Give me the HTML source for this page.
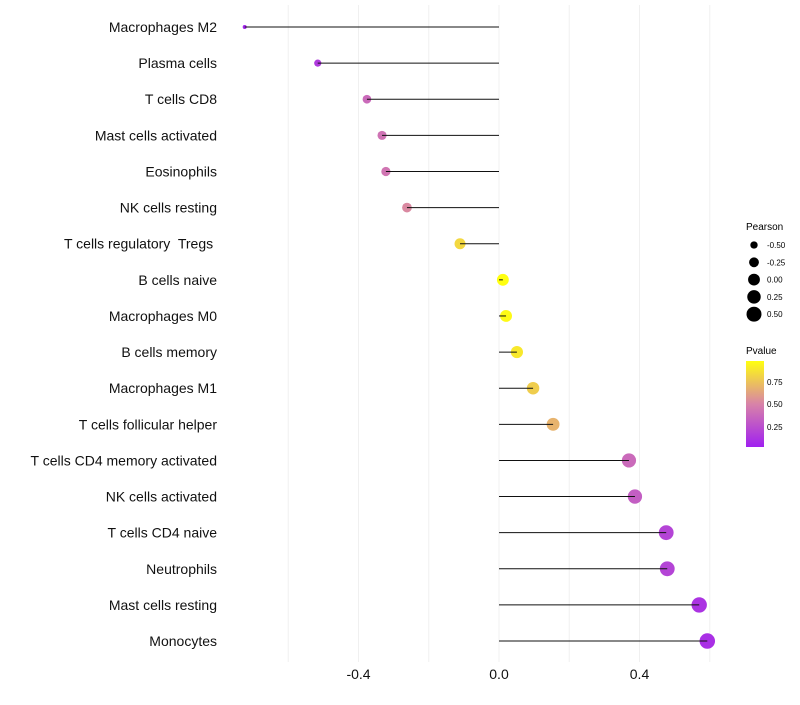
<!DOCTYPE html>
<html><head><meta charset="utf-8"><style>
body{margin:0;background:#fff;font-family:"Liberation Sans",sans-serif}
text{white-space:pre}
</style></head><body>
<svg id="chart" width="800" height="700" xmlns="http://www.w3.org/2000/svg" font-family="Liberation Sans, sans-serif">
<defs><linearGradient id="pg" x1="0" y1="1" x2="0" y2="0">
<stop offset="0" stop-color="#a020f0"/><stop offset="0.5" stop-color="#d883a8"/><stop offset="1" stop-color="#ffff10"/>
</linearGradient></defs>
<g id="grid"></g><g id="marks"></g><g id="labels"></g>
<g>
<text x="746" y="230" font-size="10">Pearson</text>
<g id="sizeLeg"></g>
</g>
<g>
<text x="746" y="354" font-size="10">Pvalue</text>
<rect x="746" y="361" width="18" height="86" fill="url(#pg)"/>
<text x="767" y="385" font-size="8">0.75</text>
<text x="767" y="407" font-size="8">0.50</text>
<text x="767" y="430" font-size="8">0.25</text>
</g>
</svg>
<script>
const categories=["Macrophages M2","Plasma cells","T cells CD8","Mast cells activated","Eosinophils","NK cells resting","T cells regulatory  Tregs ","B cells naive","Macrophages M0","B cells memory","Macrophages M1","T cells follicular helper","T cells CD4 memory activated","NK cells activated","T cells CD4 naive","Neutrophils","Mast cells resting","Monocytes"];
const pearson=[-0.724,-0.516,-0.376,-0.333,-0.322,-0.262,-0.111,0.011,0.020,0.051,0.097,0.154,0.370,0.387,0.476,0.479,0.570,0.593];
const pvalue=[0.05,0.15,0.38,0.42,0.43,0.52,0.82,0.97,0.95,0.88,0.78,0.68,0.38,0.32,0.2,0.2,0.12,0.1];
const xTicks=[-0.4,0,0.4];
const xTickLabels=["-0.4","0.0","0.4"];
const sizeLegVals=[-0.5,-0.25,0,0.25,0.5];
const sizeLegLabels=["-0.50","-0.25","0.00","0.25","0.50"];
const NS="http://www.w3.org/2000/svg";
const x=v=>499+v*351.25;
const y=i=>27+i*36.12;
const pmin=Math.min(...pearson),pmax=Math.max(...pearson);
const r=v=>Math.sqrt(4+56*(v-pmin)/(pmax-pmin));
function lerp(a,b,t){return a.map((c,k)=>Math.round(c+(b[k]-c)*t));}
function col(p){const t=Math.max(0,Math.min(1,(p-0.028)/0.94));const A=[160,32,240],M=[216,131,168],B=[255,255,16];
const c=t<0.5?lerp(A,M,t*2):lerp(M,B,(t-0.5)*2);return `rgb(${c})`;}
function el(t,a,p){const e=document.createElementNS(NS,t);for(const k in a)e.setAttribute(k,a[k]);p.appendChild(e);return e;}
const grid=document.getElementById('grid'),marks=document.getElementById('marks'),labels=document.getElementById('labels');
for(let v=-0.6;v<=0.61;v+=0.2){const g=el('line',{x1:x(v),x2:x(v),y1:5,y2:662,stroke:'#f0f0f0','stroke-width':1},grid);

}
xTicks.forEach((v,i)=>{const t=el('text',{x:x(v),y:679,'font-size':14,'text-anchor':'middle',fill:'#111'},labels);t.textContent=xTickLabels[i];

});
categories.forEach((c,i)=>{
const t=el('text',{x:217,y:y(i)+5,'font-size':14,'text-anchor':'end',fill:'#111'},labels);t.textContent=c;


const p=el('circle',{cx:x(pearson[i]),cy:y(i),r:r(pearson[i]),fill:col(pvalue[i])},marks);


const l=el('line',{x1:x(0),x2:x(pearson[i]),y1:y(i),y2:y(i),stroke:'#111','stroke-width':1},marks);


});
const sl=document.getElementById('sizeLeg');
sizeLegVals.forEach((v,i)=>{const cy=245+i*17.3;
const c=el('circle',{cx:754,cy:cy,r:r(v),fill:'#000'},sl);


const t=el('text',{x:767,y:cy+3,'font-size':8},sl);t.textContent=sizeLegLabels[i];

});
</script>
</body></html>
